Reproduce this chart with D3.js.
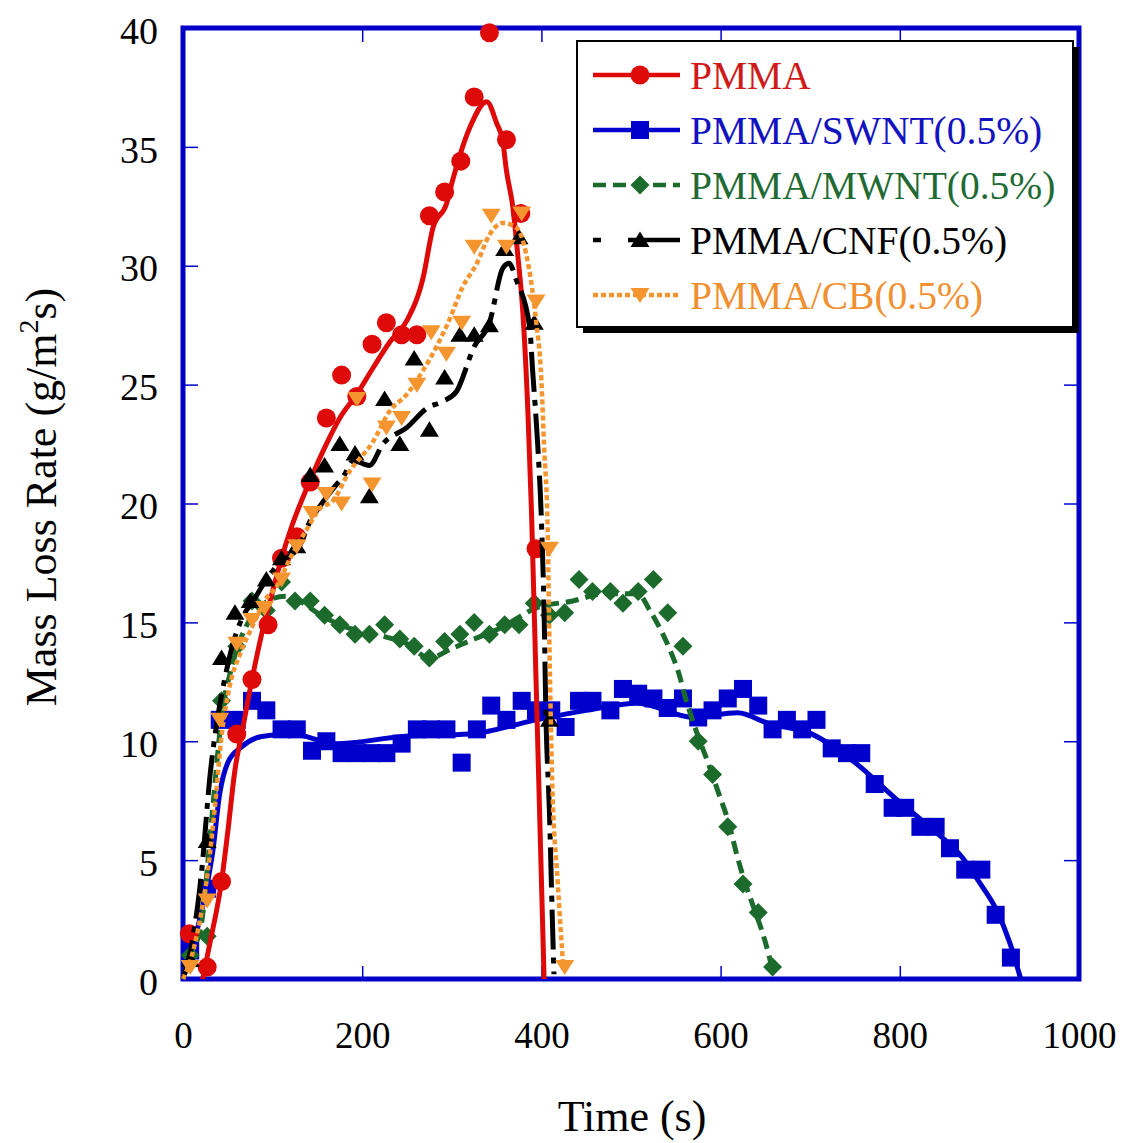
<!DOCTYPE html>
<html>
<head>
<meta charset="utf-8">
<script src="https://cdn.jsdelivr.net/npm/d3@7"></script>
<style>
  body { margin: 0; background: #ffffff; }
  svg text { font-family: "Liberation Serif", "Times New Roman", serif; }
</style>
</head>
<body>
<svg id="chart" width="1123" height="1143"></svg>
<script>
// ---- Axis ticks ----
const xTicks = [0, 200, 400, 600, 800, 1000];
const yTicks = [0, 5, 10, 15, 20, 25, 30, 35, 40];

// ---- Series names ----
const seriesNames = ["PMMA", "PMMA/SWNT(0.5%)", "PMMA/MWNT(0.5%)", "PMMA/CNF(0.5%)", "PMMA/CB(0.5%)"];

// ---- Measured points [time (s), mass loss rate (g/m2s)] ----
const pmmaPoints = [[7,1.9],[27,0.5],[43,4.1],[60,10.3],[77,12.6],[95,14.9],[110,17.7],[127,18.6],[142,20.9],[160,23.6],[177,25.4],[194,24.5],[211,26.7],[227,27.6],[244,27.1],[261,27.1],[275,32.1],[292,33.1],[310,34.4],[325,37.1],[342,39.8],[361,35.3],[377,32.2],[394,18.1]];
const swntPoints = [[8,1.2],[27,3.8],[41,10.9],[60,10.9],[77,11.7],[93,11.3],[110,10.5],[127,10.5],[144,9.6],[160,10.0],[177,9.5],[194,9.5],[211,9.5],[227,9.5],[244,9.9],[261,10.5],[277,10.5],[294,10.5],[311,9.1],[328,10.5],[344,11.5],[361,10.9],[378,11.7],[394,11.3],[411,11.3],[427,10.6],[442,11.7],[457,11.7],[477,11.3],[491,12.2],[508,12.0],[525,11.8],[541,11.4],[558,11.8],[575,11.0],[591,11.3],[608,11.8],[625,12.2],[642,11.5],[658,10.5],[674,10.9],[691,10.5],[707,10.9],[724,9.7],[741,9.5],[757,9.5],[772,8.2],[792,7.2],[806,7.2],[823,6.4],[840,6.4],[856,5.5],[873,4.6],[891,4.6],[907,2.7],[924,0.9]];
const mwntPoints = [[8,1.0],[27,1.8],[43,11.7],[60,14.0],[77,15.9],[93,15.5],[110,16.7],[125,15.9],[142,15.9],[158,15.3],[175,14.9],[192,14.5],[208,14.5],[225,14.9],[242,14.3],[258,14.0],[275,13.5],[292,14.2],[309,14.5],[325,15.0],[342,14.5],[359,14.9],[375,14.9],[392,15.8],[409,15.3],[426,15.4],[442,16.8],[457,16.3],[477,16.3],[491,15.8],[508,16.3],[525,16.8],[541,15.4],[558,14.0],[575,10.0],[591,8.6],[608,6.4],[625,4.0],[642,2.8],[658,0.5]];
const cnfPoints = [[8,0.8],[27,5.8],[43,13.5],[58,15.4],[75,15.9],[93,16.8],[110,17.7],[127,18.2],[142,21.2],[158,21.6],[175,22.5],[192,22.1],[208,20.3],[225,24.4],[242,22.5],[258,26.1],[275,23.1],[292,25.3],[309,27.1],[325,27.1],[342,27.5],[359,30.7],[375,31.2],[392,27.6],[409,10.9]];
const cbPoints = [[8,0.5],[27,3.3],[41,10.9],[60,14.1],[77,15.1],[91,15.6],[110,16.8],[127,18.2],[144,19.6],[160,20.4],[177,20.0],[194,24.4],[211,20.8],[227,23.2],[244,23.6],[261,25.0],[277,27.2],[294,26.3],[311,27.6],[325,30.8],[344,32.1],[361,30.8],[378,32.2],[394,28.5],[409,18.1],[426,0.5]];

// ---- Smoothed curves [time (s), mass loss rate (g/m2s)] ----
const pmmaCurve = [[22,0],[30,1.5],[43,4.1],[50,6.2],[58,8.8],[66,10.4],[77,12.6],[89,14.7],[100,16.3],[110,17.7],[121,19.0],[141,20.9],[160,22.5],[175,23.6],[194,24.6],[212,25.7],[231,26.8],[250,27.7],[268,29.5],[279,31.6],[294,32.6],[301,33.6],[320,35.8],[339,36.9],[350,36.0],[357,35.2],[361,34.0],[368,32.5],[374,30.3],[379,28.2],[385,23.8],[389,19.6],[394,12.6],[400,4.2],[403,0]];
const swntCurve = [[0,0],[8,1.0],[18,2.4],[26,3.8],[33,5.3],[41,7.8],[50,9.1],[65,9.75],[88,10.2],[121,10.3],[171,9.9],[245,10.2],[320,10.3],[394,10.9],[450,11.3],[507,11.6],[570,11.0],[619,11.2],[653,10.75],[702,10.3],[750,9.1],[795,7.6],[833,6.4],[870,5.1],[890,4.0],[908,2.9],[923,1.5],[935,0]];
const mwntCurve = [[0,0],[8,1.0],[20,2.2],[32,6.7],[43,11.0],[55,13.2],[70,14.8],[85,15.6],[100,16.0],[115,16.1],[130,15.9],[150,15.4],[175,14.9],[200,14.6],[225,14.4],[250,14.1],[275,13.5],[300,13.9],[325,14.3],[356,14.8],[394,15.6],[435,15.9],[470,16.2],[508,16.2],[521,15.5],[533,14.7],[544,13.8],[553,12.9],[561,11.8],[575,10.2],[586,9.1],[597,7.9],[608,6.7],[619,5.1],[626,4.2],[637,3.0],[648,1.8],[658,0.4]];
const cnfCurve = [[0,0],[10,1.5],[21,4.6],[30,8.5],[40,11.3],[47,12.7],[55,14.0],[65,15.1],[80,16.0],[93,16.8],[108,17.5],[130,18.2],[141,19.2],[155,20.0],[167,20.6],[180,21.2],[190,21.8],[208,21.6],[223,22.5],[250,23.2],[272,24.0],[290,24.3],[305,24.7],[325,26.6],[342,27.6],[357,29.9],[364,30.1],[372,29.4],[387,27.4],[390,25.7],[396,22.4],[400,19.3],[403,15.4],[405,11.2],[409,7.0],[412,2.8],[414,0.2]];
const cbCurve = [[0,0],[10,1.0],[19,2.5],[28,4.6],[36,7.4],[43,10.2],[52,12.3],[64,13.7],[77,14.8],[91,15.9],[106,16.6],[117,17.5],[138,18.9],[153,19.8],[167,20.1],[185,21.3],[212,22.6],[231,23.9],[250,24.6],[268,25.6],[283,26.6],[297,27.7],[312,29.1],[328,30.1],[342,31.3],[357,31.8],[372,31.6],[383,30.5],[394,27.7],[400,25.2],[403,22.4],[407,18.9],[409,14.0],[412,8.4],[418,4.2],[424,0.7]];

// ---- Styles ----
const FRAME = "#0000c8";
const styles = {
  pmma: { color: "#de0a0a", text: "#d01a1a", width: 5, dash: null, shape: "circle" },
  swnt: { color: "#0000cc", text: "#1212c0", width: 5, dash: null, shape: "square" },
  mwnt: { color: "#1c6a2c", text: "#226a34", width: 5, dash: "13,7", shape: "diamond" },
  cnf:  { color: "#000000", text: "#000000", width: 5, dash: "40,8,6,8", shape: "triUp" },
  cb:   { color: "#f59530", text: "#f09030", width: 4.5, dash: "5,3", shape: "triDown" }
};

const shapePath = {
  circle:  "M0,-9.5A9.5,9.5 0 1,1 0,9.5A9.5,9.5 0 1,1 0,-9.5Z",
  square:  "M-9,-9H9V9H-9Z",
  diamond: "M0,-9.5L9.5,0L0,9.5L-9.5,0Z",
  triUp:   "M0,-8.5L9.5,7L-9.5,7Z",
  triDown: "M0,8L9.5,-7L-9.5,-7Z"
};

const svg = d3.select("#chart");
const x = d3.scaleLinear().domain([0, 1000]).range([183, 1079]);
const y = d3.scaleLinear().domain([0, 40]).range([979, 28]);

// ---- Axes (inward ticks on all four sides) ----
function styleAxis(g) {
  g.select(".domain").remove();
  g.selectAll(".tick line").attr("stroke", FRAME).attr("stroke-width", 1.5);
  g.attr("font-family", "Liberation Serif, Times New Roman, serif");
  g.selectAll(".tick text").attr("fill", "#000");
}

svg.append("g")
  .attr("transform", `translate(${x(0)},0)`)
  .call(d3.axisLeft(y).tickValues(yTicks).tickSizeInner(-15).tickSizeOuter(0).tickPadding(25).tickFormat(d3.format("d")))
  .call(styleAxis)
  .attr("font-size", 38)
  .selectAll(".tick text").attr("dy", "0.4em");

svg.append("g")
  .attr("transform", `translate(${x(1000)},0)`)
  .call(d3.axisRight(y).tickValues(yTicks).tickSizeInner(-15).tickSizeOuter(0).tickFormat(""))
  .call(styleAxis);

svg.append("g")
  .attr("transform", `translate(0,${y(0)})`)
  .call(d3.axisBottom(x).tickValues(xTicks).tickSizeInner(-13).tickSizeOuter(0).tickPadding(43).tickFormat(d3.format("d")))
  .call(styleAxis)
  .attr("font-size", 37);

svg.append("g")
  .attr("transform", `translate(0,${y(40)})`)
  .call(d3.axisTop(x).tickValues(xTicks).tickSizeInner(-14).tickSizeOuter(0).tickFormat(""))
  .call(styleAxis);

// ---- Plot frame ----
svg.append("rect")
  .attr("x", x(0)).attr("y", y(40))
  .attr("width", x(1000) - x(0)).attr("height", y(0) - y(40))
  .attr("fill", "none").attr("stroke", FRAME).attr("stroke-width", 5);

// ---- Series ----
const line = d3.line().x(d => x(d[0])).y(d => y(d[1])).curve(d3.curveMonotoneX);

const series = [
  { key: "swnt", curve: swntCurve, points: swntPoints },
  { key: "mwnt", curve: mwntCurve, points: mwntPoints },
  { key: "pmma", curve: pmmaCurve, points: pmmaPoints },
  { key: "cnf",  curve: cnfCurve,  points: cnfPoints },
  { key: "cb",   curve: cbCurve,   points: cbPoints }
];

series.forEach(s => {
  const st = styles[s.key];
  const g = svg.append("g").attr("class", "series-" + s.key);
  g.append("path")
    .datum(s.curve)
    .attr("d", line)
    .attr("fill", "none")
    .attr("stroke", st.color)
    .attr("stroke-width", st.width)
    .attr("stroke-dasharray", st.dash)
    .attr("stroke-linejoin", "round");
  g.selectAll("path.mk")
    .data(s.points)
    .join("path")
    .attr("class", "mk")
    .attr("d", shapePath[st.shape])
    .attr("transform", d => `translate(${x(d[0])},${y(d[1])})`)
    .attr("fill", st.color);
});

// ---- Legend ----
const legend = svg.append("g");
const lgX = 577, lgY = 41, lgW = 496, lgH = 286;
legend.append("rect")
  .attr("x", lgX + 6).attr("y", lgY + 6).attr("width", lgW).attr("height", lgH)
  .attr("fill", "#000");
legend.append("rect")
  .attr("x", lgX).attr("y", lgY).attr("width", lgW).attr("height", lgH)
  .attr("fill", "#fff").attr("stroke", "#000").attr("stroke-width", 2);

const legendKeys = ["pmma", "swnt", "mwnt", "cnf", "cb"];
legendKeys.forEach((k, i) => {
  const st = styles[k];
  const cy = 75 + i * 55;
  legend.append("line")
    .attr("x1", 593).attr("x2", 680).attr("y1", cy).attr("y2", cy)
    .attr("stroke", st.color).attr("stroke-width", 4.5)
    .attr("stroke-dasharray", k === "cnf" ? "8,27,60" : st.dash);
  legend.append("path")
    .attr("d", shapePath[st.shape])
    .attr("transform", `translate(640,${cy})`)
    .attr("fill", st.color);
  legend.append("text")
    .attr("x", 690).attr("y", cy + 14)
    .attr("font-size", 39.5)
    .attr("fill", st.text)
    .text(seriesNames[i]);
});

// ---- Axis titles ----
svg.append("text")
  .attr("x", 632).attr("y", 1131)
  .attr("text-anchor", "middle")
  .attr("font-size", 44)
  .text("Time (s)");

const yTitle = svg.append("text")
  .attr("transform", "translate(56,497) rotate(-90)")
  .attr("text-anchor", "middle")
  .attr("font-size", 44);
yTitle.append("tspan").text("Mass Loss Rate (g/m");
yTitle.append("tspan").attr("font-size", 28).attr("dy", -18).text("2");
yTitle.append("tspan").attr("dy", 18).text("s)");
</script>
</body>
</html>
